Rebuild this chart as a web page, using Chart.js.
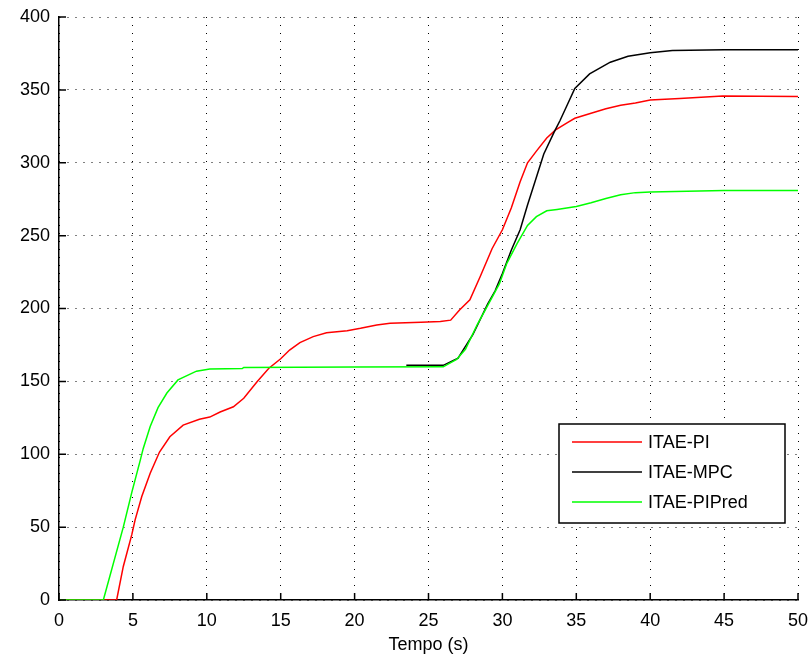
<!DOCTYPE html>
<html>
<head>
<meta charset="utf-8">
<title>ITAE</title>
<script src="https://cdn.jsdelivr.net/npm/chart.js@4/dist/chart.umd.min.js"></script>
<style>
  html, body { margin: 0; padding: 0; background: #fff; }
  #wrap { width: 811px; height: 664px; }
</style>
</head>
<body>
<div id="wrap"><canvas id="itaeChart" width="811" height="664"></canvas></div>
<script>
// tempo (s) e resposta de cada controlador
const tPI = [0, 3.9, 4.35, 4.93, 5.15, 5.6, 6.17, 6.8, 7.5, 8.4, 9.5, 10.2, 10.9, 11.8, 12.5, 13.4, 14.2, 15, 15.6, 16.3, 17.2, 18.1, 19.5, 20.4, 21.5, 22.4, 24.5, 25.8, 26.5, 27.1, 27.8, 28.5, 29.3, 30, 30.6, 31.2, 31.7, 32.3, 33, 33.6, 34.4, 34.9, 36, 37, 38, 39, 40, 42, 44.9, 50];
const itaePI = [0, 0, 23, 45, 55, 71, 87, 101.5, 112, 120, 124, 125.5, 129, 132.6, 138.4, 149.8, 159, 165.5, 171.5, 176.6, 180.7, 183.4, 184.8, 186.4, 188.7, 189.8, 190.5, 191, 192, 199, 206, 222, 241, 254, 269, 287, 300, 308, 317, 322.5, 327.5, 330.5, 334, 337, 339.5, 341, 343, 344, 345.8, 345.5];

const tMPC = [23.5, 26, 27, 28, 29, 29.5, 30, 30.6, 31.2, 31.7, 32.3, 32.8, 33.5, 33.9, 34.4, 34.9, 35.9, 37.3, 38.5, 40, 41.5, 45, 50];
const itaeMPC = [161, 161, 166, 182, 203, 212, 224, 240, 254, 271, 290, 306, 321, 329, 340, 351, 361, 369, 373, 375.5, 377, 377.5, 377.5];

const tPIPred = [0, 3, 4.35, 4.93, 5.5, 5.7, 6.17, 6.7, 7.3, 8.05, 9.3, 10.2, 12.4, 12.5, 20, 26, 26.9, 27.5, 28.3, 29, 29.8, 30.3, 31, 31.7, 32.3, 33, 33.7, 35, 36, 37, 38, 39, 40, 45, 50];
const itaePIPred = [0, 0, 50, 74, 96, 104, 119, 132, 142, 151, 157, 158.5, 158.8, 159.6, 159.8, 160, 165, 172, 189, 202, 217, 231, 244.7, 257, 263, 267, 268, 270, 272.5, 275.5, 278, 279.5, 280, 281, 281];

const xTicks = [0, 5, 10, 15, 20, 25, 30, 35, 40, 45, 50];
const yTicks = [0, 50, 100, 150, 200, 250, 300, 350, 400];

const seriesNames = ['ITAE-PI', 'ITAE-MPC', 'ITAE-PIPred'];
const seriesColors = ['#ff0000', '#000000', '#00ff00'];

const FONT = 'Liberation Sans, Arial, Helvetica, sans-serif';

function toPoints(ts, vs) {
    return ts.map((t, i) => ({ x: t, y: vs[i] }));
}

// marcas dos eixos viradas para dentro e legenda no canto inferior direito
const axesExtras = {
    id: 'axesExtras',
    afterDraw(chart) {
        const ctx = chart.ctx;
        const area = chart.chartArea;
        const xs = chart.scales.x;
        const ys = chart.scales.y;

        ctx.save();
        ctx.strokeStyle = '#000';
        ctx.lineWidth = 1.5;
        ctx.beginPath();
        xTicks.forEach(v => {
            const px = xs.getPixelForValue(v);
            ctx.moveTo(px, area.bottom);
            ctx.lineTo(px, area.bottom - 7);
        });
        yTicks.forEach(v => {
            const py = ys.getPixelForValue(v);
            ctx.moveTo(area.left, py);
            ctx.lineTo(area.left + 7, py);
        });
        ctx.stroke();

        // legenda
        const bx = 559, by = 424, bw = 226, bh = 99;
        ctx.fillStyle = '#fff';
        ctx.fillRect(bx, by, bw, bh);
        ctx.lineWidth = 1.5;
        ctx.strokeStyle = '#000';
        ctx.strokeRect(bx, by, bw, bh);

        ctx.font = '18px ' + FONT;
        ctx.textBaseline = 'middle';
        ctx.textAlign = 'left';
        chart.data.datasets.forEach((ds, i) => {
            const y = by + 18 + i * 30;
            ctx.strokeStyle = ds.borderColor;
            ctx.lineWidth = 1.5;
            ctx.beginPath();
            ctx.moveTo(bx + 13, y);
            ctx.lineTo(bx + 83, y);
            ctx.stroke();
            ctx.fillStyle = '#000';
            ctx.fillText(ds.label, bx + 89, y + 1);
        });
        ctx.restore();
    }
};

const ctx = document.getElementById('itaeChart').getContext('2d');
new Chart(ctx, {
    type: 'line',
    data: {
        datasets: [
            { label: seriesNames[0], data: toPoints(tPI, itaePI), borderColor: seriesColors[0], order: 2 },
            { label: seriesNames[1], data: toPoints(tMPC, itaeMPC), borderColor: seriesColors[1], order: 1 },
            { label: seriesNames[2], data: toPoints(tPIPred, itaePIPred), borderColor: seriesColors[2], order: 0 }
        ]
    },
    options: {
        responsive: false,
        animation: false,
        devicePixelRatio: 1,
        layout: { padding: { left: 0, right: 13, top: 17, bottom: 0 } },
        elements: {
            line: { borderWidth: 1.5, tension: 0, fill: false },
            point: { radius: 0, hoverRadius: 0 }
        },
        plugins: {
            legend: { display: false },
            tooltip: { enabled: false }
        },
        scales: {
            x: {
                type: 'linear',
                min: 0,
                max: 50,
                afterBuildTicks: s => { s.ticks = xTicks.map(v => ({ value: v })); },
                afterFit: s => { s.height = 64; s.paddingLeft = 0; s.paddingRight = 0; },
                ticks: { color: '#000', font: { family: FONT, size: 18 }, padding: 10, maxRotation: 0 },
                grid: { color: '#000', lineWidth: 1, drawTicks: false },
                border: { display: true, color: '#000', width: 1.5, dash: [1, 7] },
                title: {
                    display: true,
                    text: 'Tempo (s)',
                    color: '#000',
                    font: { family: FONT, size: 18 },
                    padding: { top: 0, bottom: 8 }
                }
            },
            y: {
                min: 0,
                max: 400,
                afterBuildTicks: s => { s.ticks = yTicks.map(v => ({ value: v })); },
                afterFit: s => { s.width = 59; s.paddingTop = 0; s.paddingBottom = 0; },
                ticks: { color: '#000', font: { family: FONT, size: 18 }, padding: 9 },
                grid: { color: '#000', lineWidth: 1, drawTicks: false },
                border: { display: true, color: '#000', width: 1.5, dash: [1, 7] }
            }
        }
    },
    plugins: [axesExtras]
});
</script>
</body>
</html>
